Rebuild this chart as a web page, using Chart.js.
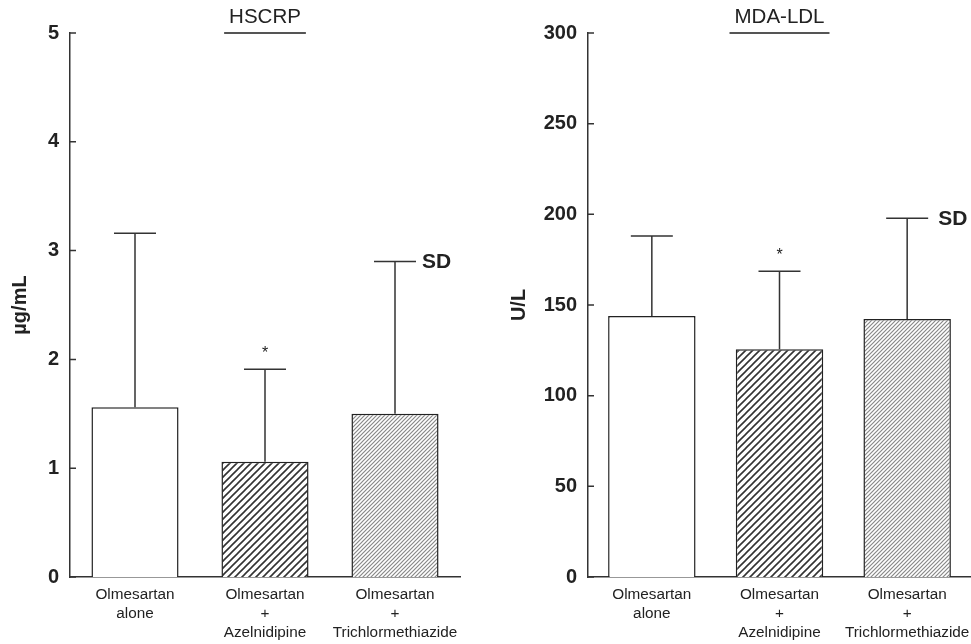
<!DOCTYPE html>
<html>
<head>
<meta charset="utf-8">
<title>HSCRP / MDA-LDL</title>
<script src="https://cdn.jsdelivr.net/npm/chart.js@4.4.1/dist/chart.umd.min.js"></script>
<style>
  body { margin: 0; background: #fff; overflow: hidden; }
  #wrap { position: relative; width: 971px; height: 644px; overflow: hidden; }
  canvas { position: absolute; top: 0; }
  #hscrp { left: 0; }
  #mdaldl { left: 480px; }
</style>
</head>
<body>
<div id="wrap">
  <canvas id="hscrp" width="480" height="644"></canvas>
  <canvas id="mdaldl" width="491" height="644"></canvas>
</div>
<script>
// groups on the x axis
const groups = [
  ['Olmesartan', 'alone'],
  ['Olmesartan', '+', 'Azelnidipine'],
  ['Olmesartan', '+', 'Trichlormethiazide']
];

// HSCRP (µg/mL), mean and SD
const hscrpMean = [1.56, 1.06, 1.50];
const hscrpSd = [1.60, 0.85, 1.40];
const hscrpTicks = [0, 1, 2, 3, 4, 5];

// MDA-LDL (U/L), mean and SD
const ldlMean = [144, 125.6, 142.3];
const ldlSd = [44, 43, 55.5];
const ldlTicks = [0, 50, 100, 150, 200, 250, 300];

// * = significant vs olmesartan alone
const significant = [false, true, false];

Chart.defaults.font.family = "'Liberation Sans', Arial, Helvetica, sans-serif";
Chart.defaults.color = '#222';

function hatch(ctx, size, color, width) {
  const c = document.createElement('canvas');
  c.width = c.height = size;
  const g = c.getContext('2d');
  g.fillStyle = '#fff';
  g.fillRect(0, 0, size, size);
  g.strokeStyle = color;
  g.lineWidth = width;
  g.beginPath();
  g.moveTo(-1, size + 1); g.lineTo(size + 1, -1);
  g.moveTo(-1, 1); g.lineTo(1, -1);
  g.moveTo(size - 1, size + 1); g.lineTo(size + 1, size - 1);
  g.stroke();
  return ctx.createPattern(c, 'repeat');
}

// error bars, asterisk, SD label, inward y ticks, title underline
const extras = {
  id: 'extras',
  afterDatasetsDraw(chart, args, opts) {
    const ctx = chart.ctx;
    const y = chart.scales.y;
    const meta = chart.getDatasetMeta(0);
    const data = chart.data.datasets[0].data;
    ctx.save();
    ctx.strokeStyle = '#333';
    ctx.lineWidth = 1.5;
    meta.data.forEach((bar, i) => {
      const top = y.getPixelForValue(data[i] + opts.sd[i]);
      ctx.beginPath();
      ctx.moveTo(bar.x, bar.y);
      ctx.lineTo(bar.x, top);
      ctx.moveTo(bar.x - 21, top);
      ctx.lineTo(bar.x + 21, top);
      ctx.stroke();
      if (significant[i]) {
        ctx.fillStyle = '#222';
        ctx.font = "16px 'Liberation Sans', Arial, sans-serif";
        ctx.textAlign = 'center';
        ctx.textBaseline = 'middle';
        ctx.fillText('*', bar.x, top - 16);
      }
      if (i === data.length - 1) {
        ctx.fillStyle = '#222';
        ctx.font = "bold 21px 'Liberation Sans', Arial, sans-serif";
        ctx.textAlign = 'left';
        ctx.textBaseline = 'middle';
        ctx.fillText('SD', bar.x + 21 + opts.sdGap, top + 1);
      }
    });

    // y ticks point into the plot
    const left = chart.chartArea.left;
    ctx.beginPath();
    y.ticks.forEach((t, i) => {
      const py = y.getPixelForTick(i);
      ctx.moveTo(left, py);
      ctx.lineTo(left + 6, py);
    });
    ctx.stroke();

    // underline under the panel title
    const tb = chart.titleBlock;
    ctx.font = "20.5px 'Liberation Sans', Arial, sans-serif";
    const w = ctx.measureText(chart.options.plugins.title.text).width;
    const cx = (tb.left + tb.right) / 2;
    ctx.strokeStyle = '#555';
    ctx.lineWidth = 2;
    ctx.beginPath();
    ctx.moveTo(cx - w / 2 - 5, tb.bottom);
    ctx.lineTo(cx + w / 2 + 5, tb.bottom);
    ctx.stroke();
    ctx.restore();
  }
};

function makeChart(id, mean, sd, ticks, title, yTitle, opt) {
  const canvas = document.getElementById(id);
  const ctx = canvas.getContext('2d');
  return new Chart(canvas, {
    type: 'bar',
    data: {
      labels: groups,
      datasets: [{
        data: mean,
        backgroundColor: ['#fff', hatch(ctx, 7, '#333', 1.6), hatch(ctx, 4, '#888', 1.2)],
        borderColor: '#222',
        borderWidth: 1.5,
        barPercentage: opt.barPct,
        categoryPercentage: 1
      }]
    },
    options: {
      responsive: false,
      animation: false,
      layout: { padding: opt.padding },
      plugins: {
        legend: { display: false },
        tooltip: { enabled: false },
        title: {
          display: true,
          text: title,
          fullSize: false,
          font: { size: 20.5, weight: 'normal' },
          color: '#222',
          padding: { top: 5, bottom: 3.4 }
        },
        extras: { sd: sd, sdGap: opt.sdGap }
      },
      scales: {
        x: {
          afterFit: s => { s.height = 67; s.paddingRight = 0; s.paddingLeft = 0; },
          grid: { display: false, drawTicks: false },
          border: { color: '#333', width: 1.5 },
          ticks: { padding: 8.5, font: { size: 15.3, lineHeight: 1.24 }, color: '#222', maxRotation: 0, autoSkip: false }
        },
        y: {
          min: ticks[0],
          max: ticks[ticks.length - 1],
          afterBuildTicks: s => { s.ticks = ticks.map(v => ({ value: v })); },
          afterFit: s => { s.width = opt.axisWidth; },
          grid: { display: false, drawTicks: false },
          border: { color: '#333', width: 1.5 },
          ticks: { padding: 11, font: { size: 20, weight: 'bold' }, color: '#222' },
          title: {
            display: true,
            text: yTitle,
            font: { size: 20, weight: 'bold' },
            color: '#222',
            padding: { top: opt.yTitlePad, bottom: 0 }
          }
        }
      }
    },
    plugins: [extras]
  });
}

makeChart('hscrp', hscrpMean, hscrpSd, hscrpTicks, 'HSCRP', 'µg/mL',
  { axisWidth: 70, yTitlePad: 8.5, barPct: 0.67, sdGap: 6, padding: { left: 0, right: 20, bottom: 0 } });
makeChart('mdaldl', ldlMean, ldlSd, ldlTicks, 'MDA-LDL', 'U/L',
  { axisWidth: 108, yTitlePad: 27.5, barPct: 0.685, sdGap: 10, padding: { left: 0, right: 0, bottom: 0 } });
</script>
</body>
</html>
